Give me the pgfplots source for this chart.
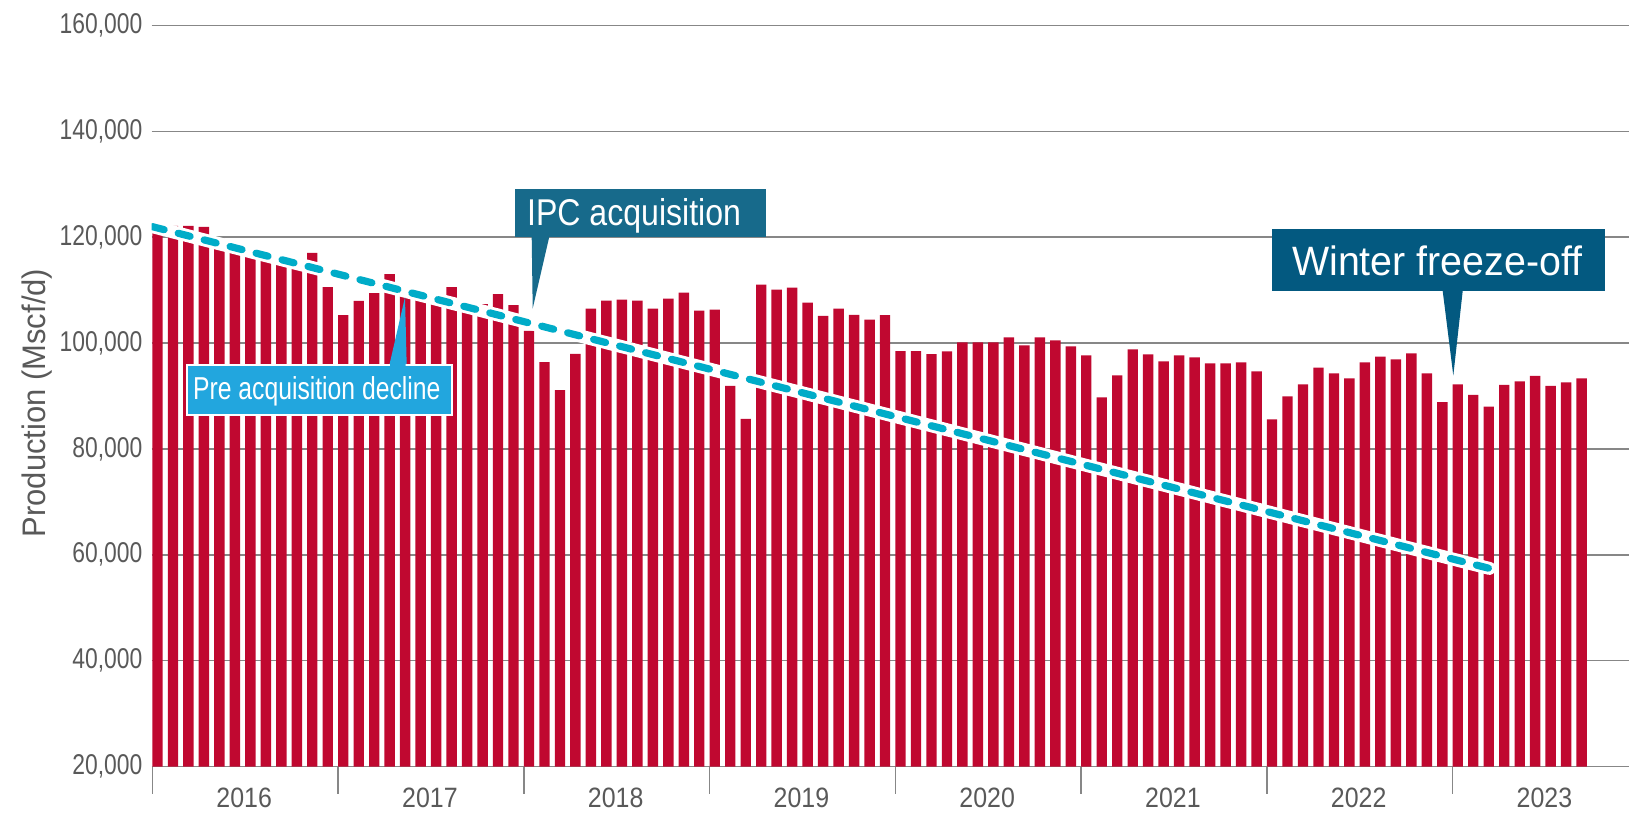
\documentclass[border=0pt]{standalone}
\usepackage{pgfplots}
\pgfplotsset{compat=1.18}
\usepackage{pgfplotstable}
\usepackage{fontspec}
\setmainfont{Liberation Sans}
\newfontfamily\tickfont[FakeStretch=0.8]{Liberation Sans}
\newfontfamily\yearfont[FakeStretch=0.89]{Liberation Sans}
\newfontfamily\labfont[FakeStretch=0.95]{Liberation Sans}
\newfontfamily\ipcfont[FakeStretch=0.86]{Liberation Sans}
\newfontfamily\winfont[FakeStretch=0.96]{Liberation Sans}
\newfontfamily\prefont[FakeStretch=0.78]{Liberation Sans}
\definecolor{barred}{RGB}{192,8,48}
\definecolor{gridgray}{RGB}{135,135,135}
\definecolor{txtgray}{RGB}{89,89,89}
\definecolor{ipcblue}{RGB}{23,106,139}
\definecolor{winblue}{RGB}{3,89,128}
\definecolor{preblue}{RGB}{34,166,222}
\definecolor{trendcyan}{RGB}{0,172,200}

\pgfplotstableread{
x y
0 121250
1 122140
2 122140
3 121950
4 119680
5 117900
6 116640
7 117400
8 115500
9 114200
10 117050
11 110570
12 105270
13 107980
14 109440
15 113040
16 110360
17 109060
18 107500
19 110570
20 107350
21 107350
22 109250
23 107170
24 102300
25 96400
26 91100
27 97980
28 106490
29 108000
30 108190
31 108000
32 106490
33 108380
34 109520
35 106110
36 106300
37 91920
38 85680
39 111030
40 110080
41 110460
42 107620
43 105160
44 106490
45 105350
46 104410
47 105300
48 98480
49 98480
50 97920
51 98430
52 100130
53 100130
54 100130
55 101080
56 99560
57 101080
58 100510
59 99380
60 97680
61 89720
62 93880
63 98810
64 97860
65 96530
66 97680
67 97300
68 96170
69 96170
70 96360
71 94660
72 85570
73 89930
74 92200
75 95340
76 94260
77 93320
78 96360
79 97430
80 96930
81 98050
82 94260
83 88840
84 92200
85 90230
86 88010
87 92120
88 92740
89 93810
90 91930
91 92560
92 93320
}\prod

\begin{document}
\begin{tikzpicture}
\begin{axis}[
  scale only axis,
  width=738.65pt, height=370.5pt,
  xmin=-0.374, xmax=95.06,
  ymin=20000, ymax=160000,
  clip mode=individual,
  axis line style={draw=none},
  xtick=\empty,
  ytick={20000,40000,60000,80000,100000,120000,140000,160000},
  yticklabels={{20,000},{40,000},{60,000},{80,000},{100,000},{120,000},{140,000},{160,000}},
  scaled y ticks=false,
  ymajorgrids,
  grid style={gridgray, line width=0.75pt},
  major tick length=0pt,
  ytick style={draw=none},
  yticklabel style={font=\tickfont\fontsize{14.3}{16}\selectfont, text=txtgray, anchor=east, inner sep=0pt, xshift=-4.5pt},
]
\addplot[ybar, bar width=5.2pt, bar shift=0pt, fill=barred, draw=none] table[x=x,y=y]{\prod};
\addplot[white, line width=6.5pt, line cap=round] coordinates {(-0.34,122000) (86.04,57430)};
\addplot[trendcyan, line width=3.6pt, line cap=round, dash pattern=on 6.15pt off 7.25pt] coordinates {(-0.34,122000) (86.04,57430)};
\draw[gridgray, line width=0.75pt] (axis cs:-0.336,20000) -- ([yshift=-13.5pt]axis cs:-0.336,20000);
\draw[gridgray, line width=0.75pt] (axis cs:11.664,20000) -- ([yshift=-13.5pt]axis cs:11.664,20000);
\draw[gridgray, line width=0.75pt] (axis cs:23.664,20000) -- ([yshift=-13.5pt]axis cs:23.664,20000);
\draw[gridgray, line width=0.75pt] (axis cs:35.664,20000) -- ([yshift=-13.5pt]axis cs:35.664,20000);
\draw[gridgray, line width=0.75pt] (axis cs:47.664,20000) -- ([yshift=-13.5pt]axis cs:47.664,20000);
\draw[gridgray, line width=0.75pt] (axis cs:59.664,20000) -- ([yshift=-13.5pt]axis cs:59.664,20000);
\draw[gridgray, line width=0.75pt] (axis cs:71.664,20000) -- ([yshift=-13.5pt]axis cs:71.664,20000);
\draw[gridgray, line width=0.75pt] (axis cs:83.664,20000) -- ([yshift=-13.5pt]axis cs:83.664,20000);
\end{axis}
% year labels
\foreach \yr [count=\k from 0] in {2016,2017,2018,2019,2020,2021,2022,2023} {
  \pgfmathsetmacro{\xx}{(157.5+15.479*(12*\k+5.6)-151.7)/2}
  \node[anchor=base, inner sep=0pt, text=txtgray, font=\yearfont\fontsize{14}{16}\selectfont] at (\xx pt,-20.5pt) {\yr};
}
% y label
\node[rotate=90, anchor=center, inner sep=0pt, text=txtgray, font=\labfont\fontsize{16.3}{18}\selectfont] at (-57.1pt,181.75pt) {Production (Mscf/d)};
% IPC acquisition callout
\fill[ipcblue] (181.65pt,264.65pt) rectangle (307.15pt,288.85pt);
\fill[ipcblue] (190pt,264.9pt) -- (198.8pt,264.9pt) -- (190.5pt,229pt) -- cycle;
\node[anchor=base west, inner sep=0pt, text=white, font=\ipcfont\fontsize{18.65}{20}\selectfont] at (187.5pt,270.5pt) {IPC acquisition};
% Winter freeze-off callout
\fill[winblue] (560.3pt,237.5pt) rectangle (726.65pt,268.5pt);
\fill[winblue] (645.5pt,237.75pt) -- (655.5pt,237.75pt) -- (650.8pt,195.5pt) -- cycle;
\node[anchor=base west, inner sep=0pt, text=white, font=\winfont\fontsize{20.5}{22}\selectfont] at (570pt,245.5pt) {Winter freeze-off};
% Pre acquisition decline callout
\fill[preblue] (118.8pt,200.6pt) -- (127.5pt,200.6pt) -- (126.65pt,234.65pt) -- cycle;
\filldraw[fill=preblue, draw=white, line width=1pt] (17.5pt,175.85pt) rectangle (150pt,200.85pt);
\fill[preblue] (119.3pt,200pt) -- (127pt,200pt) -- (126.9pt,201.5pt) -- (119.1pt,201.5pt) -- cycle;
\node[anchor=base west, inner sep=0pt, text=white, font=\prefont\fontsize{15.85}{17}\selectfont] at (20.5pt,183.35pt) {Pre acquisition decline};
\pgfresetboundingbox
\path[use as bounding box] (-75.85pt,-24.25pt) rectangle (738.65pt,383.25pt);
\end{tikzpicture}
\end{document}
